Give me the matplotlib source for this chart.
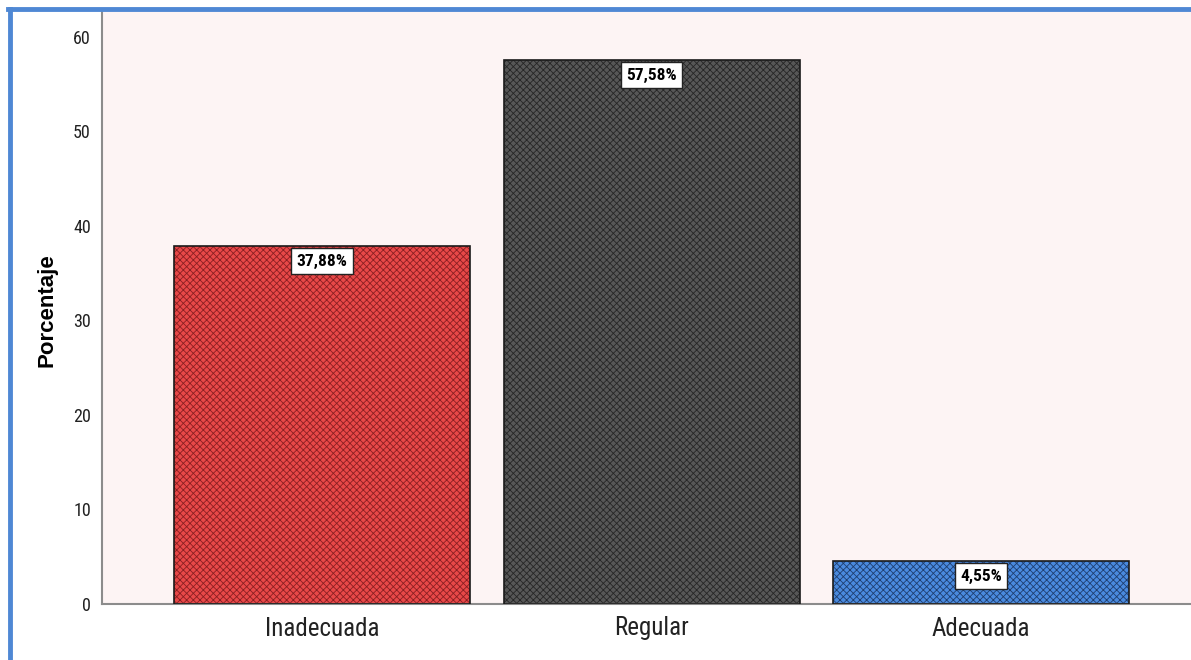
import matplotlib
matplotlib.use("Agg")
import matplotlib.pyplot as plt
from matplotlib.lines import Line2D
from matplotlib import font_manager as fm

categories = ["Inadecuada", "Regular", "Adecuada"]
values = [37.88, 57.58, 4.55]
labels = ["37,88%", "57,58%", "4,55%"]
yticks = [0, 10, 20, 30, 40, 50, 60]

fills = ["#e84848", "#575757", "#4a8ade"]
hatch_cols = ["#8a1f22", "#262626", "#1e3f70"]

plt.rcParams['hatch.linewidth'] = 0.6

def has_font(name):
    try:
        fm.findfont(fm.FontProperties(family=name), fallback_to_default=False)
        return True
    except Exception:
        return False

narrow_name = None
for cand in ['Liberation Sans Narrow', 'DejaVu Sans Condensed', 'Roboto Condensed', 'Open Sans Condensed']:
    if has_font(cand):
        narrow_name = cand
        break
if narrow_name:
    narrow = [narrow_name, 'DejaVu Sans']
    scale = 1.0
else:
    narrow = ['Liberation Sans', 'DejaVu Sans']
    scale = 0.88

W, H = 1191, 660
fig = plt.figure(figsize=(W / 100, H / 100), dpi=100)
fig.patch.set_facecolor("white")

ax_l, ax_r, ax_t, ax_b = 102, 1191, 11, 604
ax = fig.add_axes([ax_l / W, 1 - ax_b / H, (ax_r - ax_l) / W, (ax_b - ax_t) / H])
ax.set_facecolor("#fdf4f4")

x = list(range(len(categories)))
ppu = 329.5
left_val = -(322 - ax_l) / ppu
ax.set_xlim(left_val, left_val + (ax_r - ax_l) / ppu)
ax.set_ylim(0, (ax_b - ax_t) / 9.45)

bw = 296 / ppu
ax.bar(x, values, width=bw, color=fills, edgecolor=hatch_cols, hatch='xxxxx', linewidth=0, zorder=2)
ax.bar(x, values, width=bw, color='none', edgecolor='#1a1a1a', linewidth=1.2, zorder=3)

for xi, v, lab in zip(x, values, labels):
    ax.annotate(lab, (xi, v), xytext=(0, -5.5), textcoords='offset points',
                ha='center', va='top', fontsize=12.5 * scale, fontweight='bold', family=narrow,
                color='black', zorder=5,
                bbox=dict(boxstyle='square,pad=0.3', fc='white', ec='#222222', lw=1))

ax.set_yticks(yticks)
ax.set_yticklabels([str(t) for t in yticks], family=narrow, fontsize=13 * scale, color='#222222')
ax.set_xticks(x)
ax.set_xticklabels(categories, family=narrow, fontsize=18 * scale, color='#222222')
ax.tick_params(axis='both', length=0)
ax.tick_params(axis='y', pad=8)
ax.tick_params(axis='x', pad=9)

for s in ['top', 'right']:
    ax.spines[s].set_visible(False)
for s in ['left', 'bottom']:
    ax.spines[s].set_color('#8c8c8c')
    ax.spines[s].set_linewidth(1.5)

fig.text(47 / W, 1 - 310 / H, "Porcentaje", rotation=90, ha='center', va='center',
         fontsize=16, fontweight='bold', family=['Liberation Sans', 'DejaVu Sans'], color='black')

# blue frame (top and left)
fig.add_artist(Line2D([8 / W, 1], [1 - 9 / H, 1 - 9 / H], color='#4f88d4', lw=3.5, transform=fig.transFigure))
fig.add_artist(Line2D([9.5 / W, 9.5 / W], [0, 1 - 9 / H], color='#4f88d4', lw=3.5, transform=fig.transFigure))

fig.savefig("out.png", dpi=100)
